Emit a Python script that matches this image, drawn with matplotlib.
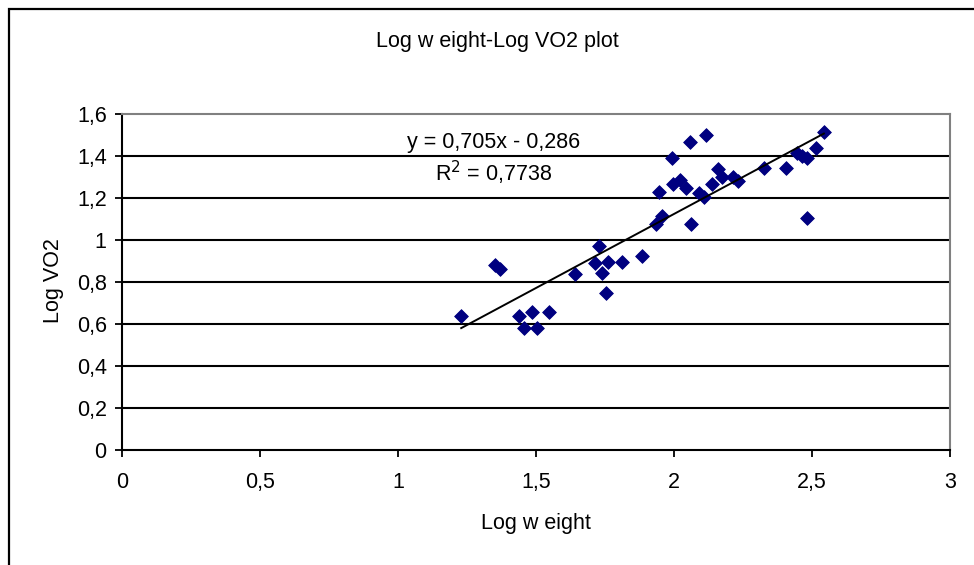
import matplotlib
matplotlib.use("Agg")
import matplotlib.pyplot as plt
from matplotlib.patches import Rectangle

plt.rcParams['font.family'] = ['Liberation Sans', 'DejaVu Sans']

log_weight = [1.229, 1.35, 1.37, 1.439, 1.457, 1.484, 1.505, 1.548, 1.643, 1.714,
              1.728, 1.738, 1.752, 1.760, 1.810, 1.883, 1.935, 1.955, 1.947, 1.991,
              1.998, 2.022, 2.042, 2.058, 2.063, 2.092, 2.109, 2.116, 2.136, 2.158,
              2.173, 2.215, 2.233, 2.326, 2.404, 2.447, 2.465, 2.481, 2.483, 2.514,
              2.543]
log_vo2 = [0.638, 0.880, 0.860, 0.638, 0.583, 0.659, 0.583, 0.659, 0.838, 0.889,
           0.973, 0.841, 0.746, 0.897, 0.897, 0.925, 1.075, 1.116, 1.230, 1.392,
           1.267, 1.286, 1.246, 1.468, 1.076, 1.222, 1.203, 1.498, 1.267, 1.337,
           1.298, 1.302, 1.283, 1.343, 1.343, 1.413, 1.400, 1.389, 1.106, 1.440,
           1.516]
slope = 0.705
intercept = -0.286
r_squared = 0.7738

x_ticks = [0, 0.5, 1, 1.5, 2, 2.5, 3]
x_tick_labels = ['0', '0,5', '1', '1,5', '2', '2,5', '3']
y_ticks = [0, 0.2, 0.4, 0.6, 0.8, 1.0, 1.2, 1.4, 1.6]
y_tick_labels = ['0', '0,2', '0,4', '0,6', '0,8', '1', '1,2', '1,4', '1,6']

FS = 15.5
W, H = 974, 565
fig = plt.figure(figsize=(W / 100, H / 100), dpi=100)
fig.patch.set_facecolor('white')

# outer chart border (extends beyond the bottom/right of the image)
fig.patches.append(Rectangle((8.7 / W, -0.1), 1.2, 1 - 9.3 / H + 0.1,
                             transform=fig.transFigure, fill=False,
                             edgecolor='black', linewidth=1.6))

ax = fig.add_axes([122 / W, 1 - 450 / H, (950 - 122) / W, (450 - 114) / H])
ax.set_xlim(0, 3)
ax.set_ylim(0, 1.6)

for yv in y_ticks[1:-1]:
    ax.axhline(yv, color='black', linewidth=1.5, zorder=1)

ax.scatter(log_weight, log_vo2, marker='D', s=7.0 ** 2, color='#000080',
           edgecolors='#000080', linewidths=0.6, zorder=3)

xmin, xmax = min(log_weight), max(log_weight)
ax.plot([xmin, xmax], [slope * xmin + intercept, slope * xmax + intercept],
        color='black', linewidth=1.4, zorder=4)

eq_text = f'y = {slope}x - {abs(intercept)}'.replace('.', ',')
r2_text = 'R$^2$ = ' + f'{r_squared}'.replace('.', ',')
ax.text(1.348, 1.462, eq_text, ha='center', va='center', fontsize=FS)
ax.text(1.348, 1.319, r2_text, ha='center', va='center', fontsize=FS)

ax.set_xticks(x_ticks)
ax.set_xticklabels(x_tick_labels)
ax.set_yticks(y_ticks)
ax.set_yticklabels(y_tick_labels)
ax.tick_params(axis='both', direction='out', length=5, width=1.3, labelsize=FS,
               colors='black')
ax.tick_params(axis='x', pad=11)
ax.tick_params(axis='y', pad=6)

for s in ['left', 'bottom']:
    ax.spines[s].set_color('black')
    ax.spines[s].set_linewidth(1.5)
for s in ['top', 'right']:
    ax.spines[s].set_color('#808080')
    ax.spines[s].set_linewidth(1.5)

fig.text(497 / W, 1 - 42 / H, 'Log w eight-Log VO2 plot', ha='center', va='center',
         fontsize=FS)
fig.text(536 / W, 1 - 524 / H, 'Log w eight', ha='center', va='center', fontsize=FS)
fig.text(54 / W, 1 - 281 / H, 'Log VO2', ha='center', va='center', rotation=90,
         fontsize=FS)

fig.savefig('out.png', dpi=100)
